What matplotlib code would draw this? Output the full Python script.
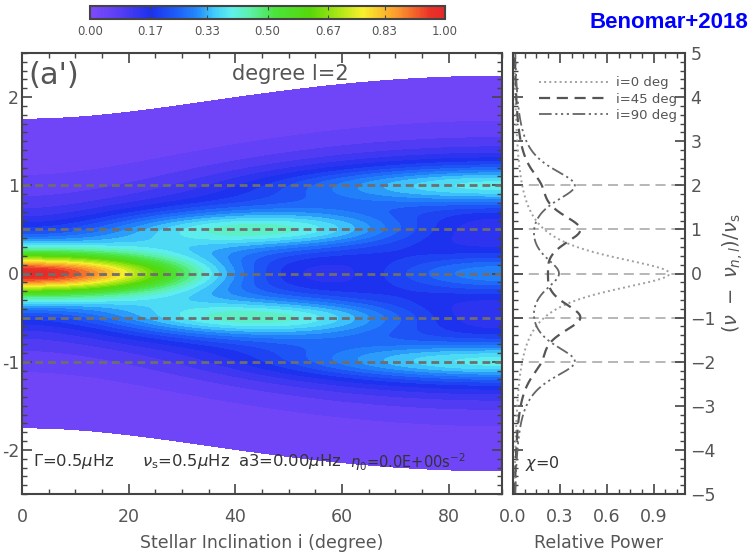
import numpy as np
import matplotlib
matplotlib.use("Agg")
import matplotlib.pyplot as plt
from matplotlib.colors import LinearSegmentedColormap, Normalize
from matplotlib.ticker import MultipleLocator
import matplotlib.cm as cm

# mode parameters (from the labels in the panel)
gamma = 0.5          # linewidth, muHz
nu_s = 0.5           # rotational splitting, muHz
m_values = [-2, -1, 0, 1, 2]
profile_incl = [0, 45, 90]
profile_labels = ['i=0 deg', 'i=45 deg', 'i=90 deg']
cbar_ticks = [0.0, 0.17, 0.33, 0.50, 0.67, 0.83, 1.0]
guide_lines = [-1.0, -0.5, 0.0, 0.5, 1.0]   # muHz, = m * nu_s


def visibility(m, inc_deg):
    # l=2 mode visibilities
    i = np.radians(inc_deg)
    m = abs(m)
    if m == 0:
        return 0.25 * (3 * np.cos(i)**2 - 1)**2
    if m == 1:
        return 3.0 / 8.0 * np.sin(2 * i)**2
    return 3.0 / 8.0 * np.sin(i)**4


def power(nu, inc_deg):
    p = 0.0
    for m in m_values:
        p = p + visibility(m, inc_deg) / (1 + 4 * ((nu - m * nu_s) / gamma)**2)
    return p


# rainbow-like colour table
cols = [(0.00, (128, 74, 250)), (0.08, (88, 62, 245)), (0.17, (28, 48, 238)),
        (0.24, (30, 92, 248)), (0.30, (35, 138, 250)), (0.35, (65, 205, 250)),
        (0.40, (95, 240, 235)), (0.45, (92, 240, 170)), (0.52, (75, 228, 60)),
        (0.62, (85, 215, 10)), (0.70, (170, 230, 20)), (0.77, (248, 240, 45)),
        (0.87, (250, 150, 45)), (0.96, (235, 50, 40)), (1.00, (230, 40, 40))]
cmap = LinearSegmentedColormap.from_list(
    'idl', [(v, tuple(c / 255 for c in rgb)) for v, rgb in cols])

plt.rcParams['font.family'] = ['DejaVu Sans']
txt = '#555555'
spine_c = '#444444'

fig = plt.figure(figsize=(7.53, 5.57), dpi=100)
ax = fig.add_axes([22 / 753, 63 / 557, 480 / 753, 441 / 557])
ax2 = fig.add_axes([513 / 753, 63 / 557, 172 / 753, 441 / 557])
cax = fig.add_axes([90 / 753, 538 / 557, 355 / 753, 13 / 557])

# map
inc = np.linspace(0, 90, 271)
nu = np.linspace(-2.5, 2.5, 501)
I, NU = np.meshgrid(inc, nu)
P = power(NU, I)
levels = np.linspace(0.02, 1.0001, 36)
ax.contourf(I, NU, P, levels=levels, cmap=cmap, vmin=0, vmax=1)
for y in guide_lines:
    ax.axhline(y, color='#6e6e6e', lw=2.0, dashes=(2.8, 1.8))
ax.set_xlim(0, 90)
ax.set_ylim(-2.5, 2.5)
ax.xaxis.set_major_locator(MultipleLocator(20))
ax.xaxis.set_minor_locator(MultipleLocator(5))
ax.yaxis.set_major_locator(MultipleLocator(1))
ax.yaxis.set_minor_locator(MultipleLocator(0.1))
ax.tick_params(which='both', direction='in', top=True, right=True, colors=spine_c,
               labelcolor=txt, labelsize=12.5)
ax.tick_params(which='major', length=7, width=1.2)
ax.tick_params(which='minor', length=3.5, width=1.0)
ax.tick_params(axis='y', pad=2)
ax.tick_params(axis='x', pad=10)
ax.set_yticks([-2, -1, 0, 1, 2])
ax.set_yticklabels(['-2', '-1', '0', '1', '2'])
ax.set_xlabel('Stellar Inclination i (degree)', fontsize=12.5, color=txt, labelpad=6)
ax.text(0.013, 0.982, "(a')", transform=ax.transAxes, fontsize=22, color=txt,
        va='top', ha='left')
ax.text(0.56, 0.952, 'degree l=2', transform=ax.transAxes, fontsize=15, color=txt,
        va='center', ha='center')
ax.text(0.022, 0.073, r'$\Gamma$=0.5$\mu$Hz', transform=ax.transAxes,
        fontsize=11.8, color='#333333', va='center')
ax.text(0.25, 0.073, r'$\nu_{\rm s}$=0.5$\mu$Hz', transform=ax.transAxes,
        fontsize=11.8, color='#333333', va='center')
ax.text(0.45, 0.073, r'a3=0.00$\mu$Hz', transform=ax.transAxes,
        fontsize=11.8, color='#333333', va='center')
ax.text(0.683, 0.073, r'$\eta_0$=0.0E+00s$^{-2}$', transform=ax.transAxes,
        fontsize=10.5, color='#333333', va='center')

# profiles
y = np.linspace(-5, 5, 801)
styles = [dict(ls=':', color='#a0a0a0', lw=1.4),
          dict(ls='--', color='#555555', lw=1.6, dashes=(5, 3)),
          dict(color='#666666', lw=1.3, dashes=(7, 2, 1.2, 2, 1.2, 2, 1.2, 2))]
for inc_i, lab, st in zip(profile_incl, profile_labels, styles):
    ax2.plot(power(y * nu_s, inc_i), y, label=lab, **st)
for yy in [-2, -1, 0, 1, 2]:
    ax2.axhline(yy, color='#aaaaaa', lw=1.2, dashes=(6, 3.5), zorder=0)
ax2.set_xlim(0, 1.1)
ax2.set_ylim(-5, 5)
ax2.xaxis.set_major_locator(MultipleLocator(0.3))
ax2.xaxis.set_minor_locator(MultipleLocator(0.075))
ax2.yaxis.set_major_locator(MultipleLocator(1))
ax2.yaxis.set_minor_locator(MultipleLocator(0.2))
ax2.yaxis.tick_right()
ax2.yaxis.set_label_position('right')
ax2.tick_params(which='both', direction='in', top=True, left=True, right=True,
                colors=spine_c, labelcolor=txt, labelsize=12.5)
ax2.tick_params(which='major', length=7, width=1.2)
ax2.tick_params(which='minor', length=3.5, width=1.0)
ax2.tick_params(axis='x', pad=10)
ax2.tick_params(axis='y', pad=4)
ax2.set_xticks([0.0, 0.3, 0.6, 0.9])
ax2.set_xticklabels(['0.0', '0.3', '0.6', '0.9'])
ax2.set_xlabel('Relative Power', fontsize=12.5, color=txt, labelpad=6)
ax2.set_ylabel(r'$(\nu\ -\ \nu_{n,l})/\nu_{\rm s}$', fontsize=14, color=txt,
               labelpad=3)
ax2.text(0.07, 0.07, r'$\chi$=0', transform=ax2.transAxes, fontsize=11.5,
         color='#333333', va='center')
leg = ax2.legend(loc='upper right', bbox_to_anchor=(1.0, 0.965), fontsize=9.5,
                 frameon=False, handlelength=5.2, labelspacing=0.25,
                 borderaxespad=0.2, handletextpad=0.6)
for t in leg.get_texts():
    t.set_color(txt)

for a in (ax, ax2):
    for s in a.spines.values():
        s.set_color(spine_c)
        s.set_linewidth(1.5)

# colour bar
cb = fig.colorbar(cm.ScalarMappable(norm=Normalize(0, 1), cmap=cmap), cax=cax,
                  orientation='horizontal', ticks=cbar_ticks)
cb.ax.set_xticklabels(['%.2f' % v for v in cbar_ticks])
cb.ax.tick_params(labelsize=8.5, labelcolor=txt, colors=spine_c, direction='in',
                  length=3, top=True, pad=4)
cb.outline.set_edgecolor(spine_c)
cb.outline.set_linewidth(1.5)

fig.text(748 / 753, 0.96, 'Benomar+2018', color='#0000ff', fontsize=16,
         fontweight='bold', family='Liberation Sans', ha='right', va='center')

fig.savefig('out.png', dpi=100)
